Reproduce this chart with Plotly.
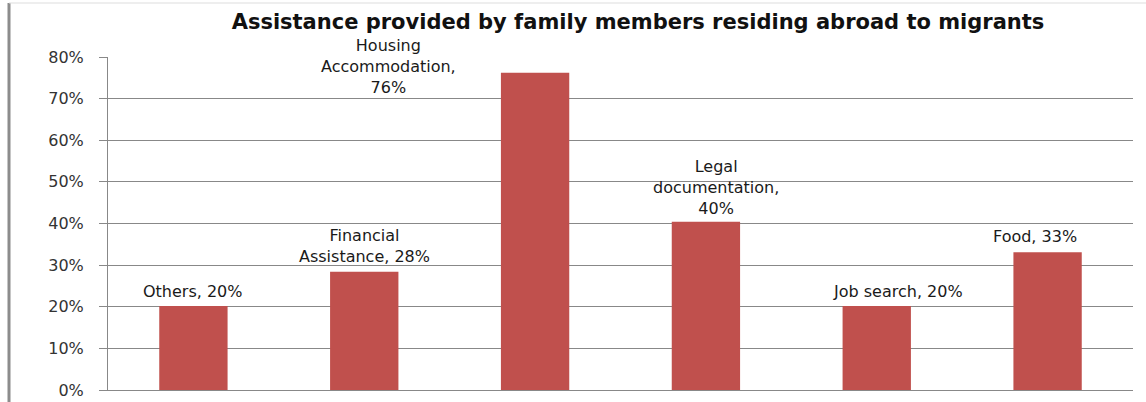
import plotly.graph_objects as go

categories = ["Others", "Financial Assistance", "Housing Accommodation",
              "Legal documentation", "Job search", "Food"]
values = [0.202, 0.284, 0.762, 0.404, 0.202, 0.331]
label_texts = ["Others, 20%", "Financial<br>Assistance, 28%", "Housing<br>Accommodation,<br>76%",
               "Legal<br>documentation,<br>40%", "Job search, 20%", "Food, 33%"]
tick_vals = [0, 0.1, 0.2, 0.3, 0.4, 0.5, 0.6, 0.7, 0.8]
tick_text = ["0%", "10%", "20%", "30%", "40%", "50%", "60%", "70%", "80%"]
title_text = "Assistance provided by family members residing abroad to migrants"

W, H = 1146, 402
L, R, T, B = 108, 13, 57, 12
FONT = "DejaVu Sans"

fig = go.Figure(go.Bar(
    x=categories, y=values, marker=dict(color="#C0504D", line=dict(width=0)),
    width=0.4, hoverinfo="skip"))

# label offsets (style)
xshifts = [0, 0, -147, 10, 21, -13]
yshifts = [3, 4, -26, 2, 3, 4]
for c, v, t, xs, ys in zip(categories, values, label_texts, xshifts, yshifts):
    fig.add_annotation(x=c, y=v, text=t, showarrow=False, xanchor="center",
                       yanchor="bottom", xshift=xs, yshift=ys,
                       font=dict(family=FONT, size=16, color="#1a1a1a"))

pw = W - L - R
ph = H - T - B
# left border and top border of the chart frame
fig.add_shape(type="line", xref="paper", yref="paper",
              x0=(9 - L) / pw, x1=(9 - L) / pw, y0=-B / ph, y1=(T - 3) / ph + 1,
              line=dict(color="#8c8c8c", width=3))
fig.add_shape(type="line", xref="paper", yref="paper",
              x0=(9 - L) / pw, x1=(W - L) / pw, y0=(T - 3) / ph + 1, y1=(T - 3) / ph + 1,
              line=dict(color="#dddddd", width=1))

fig.update_layout(
    width=W, height=H, margin=dict(l=L, r=R, t=T, b=B, autoexpand=False),
    paper_bgcolor="white", plot_bgcolor="white", showlegend=False,
    title=dict(text="<b>" + title_text + "</b>", x=638 / W, xanchor="center",
               y=1 - 22 / H, yanchor="middle", yref="container",
               font=dict(family=FONT, size=21, color="#111")),
    bargap=0.6,
)
fig.update_xaxes(showticklabels=False, showgrid=False, showline=True,
                 linecolor="#888", linewidth=1, ticks="", range=[-0.5, 5.5],
                 fixedrange=True, automargin=False)
fig.update_yaxes(range=[0, 0.8], tickvals=tick_vals, ticktext=tick_text,
                 showgrid=True, gridcolor="#888", gridwidth=1,
                 showline=True, linecolor="#888", linewidth=1,
                 ticks="outside", ticklen=8, tickcolor="#888",
                 tickfont=dict(family=FONT, size=16, color="#333"),
                 ticklabelstandoff=12, zeroline=False, fixedrange=True,
                 automargin=False)

fig.write_html("out.html")
